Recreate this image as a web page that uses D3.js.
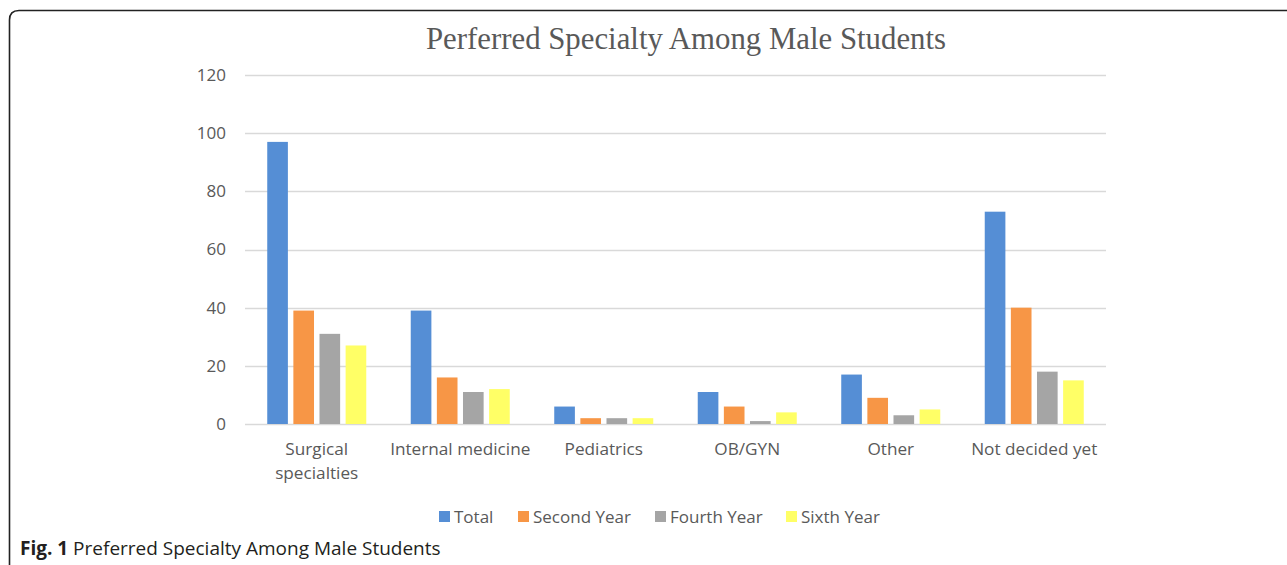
<!DOCTYPE html>
<html>
<head>
<meta charset="utf-8">
<script src="https://cdn.jsdelivr.net/npm/d3@7/dist/d3.min.js"></script>
<style>
  body { margin: 0; background: #fff; }
  svg { display: block; }
</style>
</head>
<body>
<div id="container"></div>
<script>
// data
var categories = ["Surgical specialties", "Internal medicine", "Pediatrics", "OB/GYN", "Other", "Not decided yet"];
var seriesNames = ["Total", "Second Year", "Fourth Year", "Sixth Year"];
var total = [97, 39, 6, 11, 17, 73];
var secondYear = [39, 16, 2, 6, 9, 40];
var fourthYear = [31, 11, 2, 1, 3, 18];
var sixthYear = [27, 12, 2, 4, 5, 15];
var yTicks = [0, 20, 40, 60, 80, 100, 120];

var seriesValues = [total, secondYear, fourthYear, sixthYear];
var colors = ["#558ed5", "#f79646", "#a5a5a5", "#ffff66"];

var W = 1287, H = 565;
var margin = {top: 75, right: 181, bottom: 141, left: 245};
var width = W - margin.left - margin.right;
var height = H - margin.top - margin.bottom;

var svg = d3.select("#container").append("svg")
	.attr("width", W)
	.attr("height", H);

// frame: top line with rounded corner + left line
svg.append("path")
	.attr("d", "M9.5,565 L9.5,20 Q9.5,10.5 19,10.5 L1287,10.5")
	.attr("fill", "none")
	.attr("stroke", "#222")
	.attr("stroke-width", 1.6);

var g = svg.append("g")
	.attr("transform", "translate(" + margin.left + "," + margin.top + ")");

var x0 = d3.scaleBand()
	.domain(categories)
	.range([0, width])
	.paddingInner(0.31)
	.paddingOuter(0.155);

var x1 = d3.scaleBand()
	.domain(seriesNames)
	.range([0, x0.bandwidth()])
	.paddingInner(0.21)
	.paddingOuter(0);

var y = d3.scaleLinear()
	.domain([0, 120])
	.range([height, 0]);

// gridlines
g.selectAll(".grid")
	.data(yTicks)
	.enter().append("line")
	.attr("class", "grid")
	.attr("x1", 0)
	.attr("x2", width)
	.attr("y1", d => Math.round(y(d)) + 0.5)
	.attr("y2", d => Math.round(y(d)) + 0.5)
	.attr("stroke", "#d9d9d9")
	.attr("stroke-width", 1.5);

// y axis labels
var yAxis = d3.axisLeft(y)
	.tickValues(yTicks)
	.tickSize(0)
	.tickPadding(19);

g.append("g")
	.call(yAxis)
	.call(a => a.select(".domain").remove())
	.selectAll("text")
	.attr("fill", "#595959")
	.style("font-family", "'Open Sans', sans-serif")
	.style("font-size", "17px");

// bars
var groups = g.selectAll(".cat")
	.data(categories)
	.enter().append("g")
	.attr("class", "cat")
	.attr("transform", d => "translate(" + x0(d) + ",0)");

groups.selectAll("rect")
	.data((c, ci) => seriesNames.map((s, si) => ({s: s, si: si, v: seriesValues[si][ci]})))
	.enter().append("rect")
	.attr("x", d => x1(d.s))
	.attr("width", x1.bandwidth())
	.attr("y", d => y(d.v))
	.attr("height", d => height - y(d.v))
	.attr("fill", d => colors[d.si]);

// category labels (wrap "Surgical specialties")
var catLabels = {"Surgical specialties": ["Surgical", "specialties"]};
groups.each(function(c) {
	var lines = catLabels[c] || [c];
	var t = d3.select(this).append("text")
		.attr("text-anchor", "middle")
		.attr("fill", "#595959")
		.style("font-family", "'Open Sans', sans-serif")
		.style("font-size", "17.2px");
	lines.forEach((l, i) => {
		t.append("tspan")
			.attr("x", x0.bandwidth() / 2)
			.attr("y", height + 31 + i * 24)
			.text(l);
	});
});

// title
svg.append("text")
	.attr("x", 686)
	.attr("y", 49)
	.attr("text-anchor", "middle")
	.attr("fill", "#595959")
	.style("font-family", "'Liberation Serif', 'Times New Roman', serif")
	.style("font-size", "30.8px")
	.text("Perferred Specialty Among Male Students");

// legend
var legendX = [439, 518, 655, 786];
var legend = svg.append("g");
seriesNames.forEach((s, i) => {
	legend.append("rect")
		.attr("x", legendX[i])
		.attr("y", 511)
		.attr("width", 11)
		.attr("height", 11)
		.attr("fill", colors[i]);
	legend.append("text")
		.attr("x", legendX[i] + 15)
		.attr("y", 523)
		.attr("fill", "#595959")
		.style("font-family", "'Open Sans', sans-serif")
		.style("font-size", "17px")
		.text(s);
});

// caption
var cap = svg.append("text")
	.attr("x", 20)
	.attr("y", 555)
	.attr("fill", "#231f20")
	.style("font-family", "'Open Sans', sans-serif")
	.style("font-size", "19px");
cap.append("tspan").style("font-weight", "bold").text("Fig. 1");
cap.append("tspan").text(" Preferred Specialty Among Male Students");
</script>
</body>
</html>
